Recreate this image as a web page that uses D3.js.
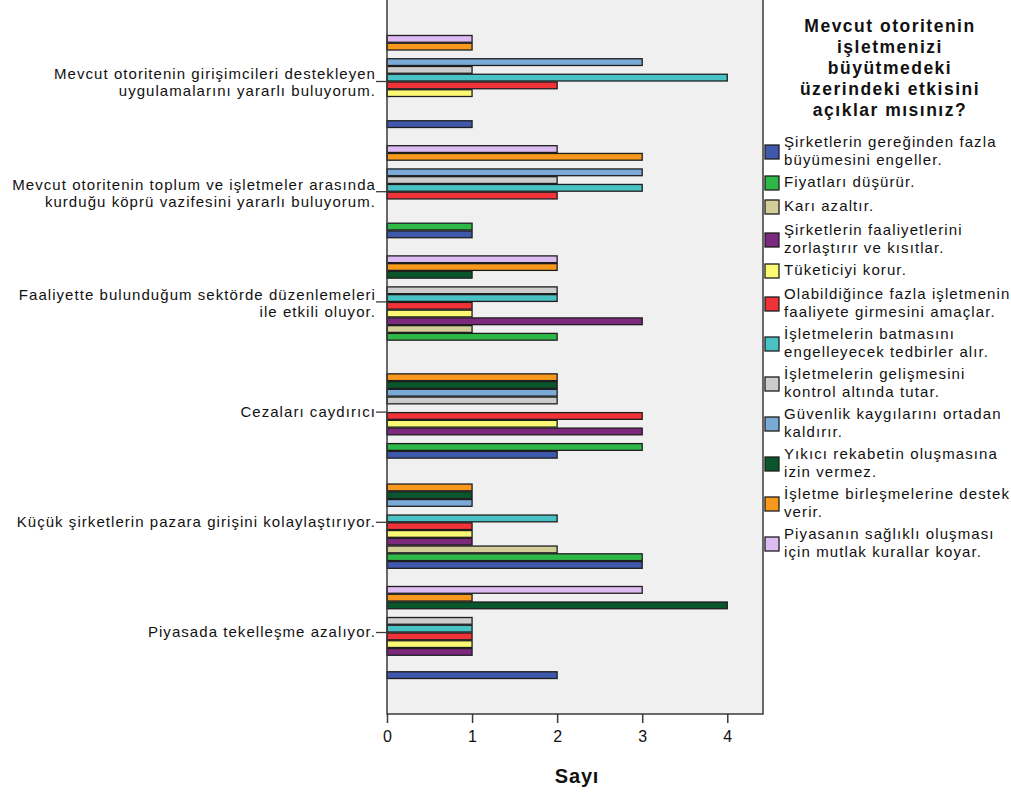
<!DOCTYPE html>
<html lang="tr">
<head>
    <meta charset="UTF-8">
    <script src="https://cdn.jsdelivr.net/npm/d3@7/dist/d3.min.js"></script>
    <style>
        body { margin: 0; background: #fff; }
        svg { display: block; font-family: "Liberation Sans", Arial, sans-serif; }
    </style>
</head>
<body>
    <div id="chart"></div>
    <script>
        // categories (top to bottom)
        const categories = [
            "Mevcut otoritenin girişimcileri destekleyen uygulamalarını yararlı buluyorum.",
            "Mevcut otoritenin toplum ve işletmeler arasında kurduğu köprü vazifesini yararlı buluyorum.",
            "Faaliyette bulunduğum sektörde düzenlemeleri ile etkili oluyor.",
            "Cezaları caydırıcı",
            "Küçük şirketlerin pazara girişini kolaylaştırıyor.",
            "Piyasada tekelleşme azalıyor."
        ];
        const categoryLines = [
            ["Mevcut otoritenin girişimcileri destekleyen", "uygulamalarını yararlı buluyorum."],
            ["Mevcut otoritenin toplum ve işletmeler arasında", "kurduğu köprü vazifesini yararlı buluyorum."],
            ["Faaliyette bulunduğum sektörde düzenlemeleri", "ile etkili oluyor."],
            ["Cezaları caydırıcı"],
            ["Küçük şirketlerin pazara girişini kolaylaştırıyor."],
            ["Piyasada tekelleşme azalıyor."]
        ];

        // series (legend order)
        const seriesNames = [
            "Şirketlerin gereğinden fazla büyümesini engeller.",
            "Fiyatları düşürür.",
            "Karı azaltır.",
            "Şirketlerin faaliyetlerini zorlaştırır ve kısıtlar.",
            "Tüketiciyi korur.",
            "Olabildiğince fazla işletmenin faaliyete girmesini amaçlar.",
            "İşletmelerin batmasını engelleyecek tedbirler alır.",
            "İşletmelerin gelişmesini kontrol altında tutar.",
            "Güvenlik kaygılarını ortadan kaldırır.",
            "Yıkıcı rekabetin oluşmasına izin vermez.",
            "İşletme birleşmelerine destek verir.",
            "Piyasanın sağlıklı oluşması için mutlak kurallar koyar."
        ];
        const legendLines = [
            ["Şirketlerin gereğinden fazla", "büyümesini engeller."],
            ["Fiyatları düşürür."],
            ["Karı azaltır."],
            ["Şirketlerin faaliyetlerini", "zorlaştırır ve kısıtlar."],
            ["Tüketiciyi korur."],
            ["Olabildiğince fazla işletmenin", "faaliyete girmesini amaçlar."],
            ["İşletmelerin batmasını", "engelleyecek tedbirler alır."],
            ["İşletmelerin gelişmesini", "kontrol altında tutar."],
            ["Güvenlik kaygılarını ortadan", "kaldırır."],
            ["Yıkıcı rekabetin oluşmasına", "izin vermez."],
            ["İşletme birleşmelerine destek", "verir."],
            ["Piyasanın sağlıklı oluşması", "için mutlak kurallar koyar."]
        ];
        const colors = ["#3e58ac", "#2eb848", "#d3ce97", "#7c287d", "#fbf873", "#ef3338",
                        "#48c2c5", "#cccccc", "#7aaad5", "#0a562c", "#f8981d", "#ddbaf1"];

        // counts per series, one value per category (top to bottom)
        const s01 = [1, 1, 0, 2, 3, 2];
        const s02 = [0, 1, 2, 3, 3, 0];
        const s03 = [0, 0, 1, 0, 2, 0];
        const s04 = [0, 0, 3, 3, 1, 1];
        const s05 = [1, 0, 1, 2, 1, 1];
        const s06 = [2, 2, 1, 3, 1, 1];
        const s07 = [4, 3, 2, 0, 2, 1];
        const s08 = [1, 2, 2, 2, 0, 1];
        const s09 = [3, 3, 0, 2, 1, 0];
        const s10 = [0, 0, 1, 2, 1, 4];
        const s11 = [1, 3, 2, 2, 1, 1];
        const s12 = [1, 2, 2, 0, 0, 3];
        const seriesValues = [s01, s02, s03, s04, s05, s06, s07, s08, s09, s10, s11, s12];

        const xTicks = [0, 1, 2, 3, 4];
        const xMax = 4.42;

        const W = 1011, H = 796;
        const plot = { left: 387, right: 763, top: -1, bottom: 714 };

        const svg = d3.select("#chart").append("svg")
            .attr("width", W)
            .attr("height", H);

        const xScale = d3.scaleLinear()
            .domain([0, xMax])
            .range([plot.left, plot.right]);

        const yGroup = d3.scaleBand()
            .domain(categories)
            .range([0, plot.bottom])
            .paddingInner(0.156)
            .paddingOuter(0.3175);

        // bottom series sits at the bottom of each cluster
        const yInner = d3.scaleBand()
            .domain(d3.range(seriesNames.length).reverse())
            .range([0, yGroup.bandwidth()]);

        // plot background
        svg.append("rect")
            .attr("x", plot.left)
            .attr("y", plot.top)
            .attr("width", plot.right - plot.left)
            .attr("height", plot.bottom - plot.top)
            .attr("fill", "#f0f0f0");

        // bars
        const rows = [];
        categories.forEach((c, ci) => {
            seriesValues.forEach((vals, si) => {
                if (vals[ci] > 0) rows.push({ cat: c, s: si, v: vals[ci] });
            });
        });

        svg.append("g")
            .selectAll("rect")
            .data(rows)
            .enter()
            .append("rect")
            .attr("x", xScale(0))
            .attr("y", d => yGroup(d.cat) + yInner(d.s) + 0.5)
            .attr("width", d => xScale(d.v) - xScale(0))
            .attr("height", yInner.bandwidth() - 1)
            .attr("fill", d => colors[d.s])
            .attr("stroke", "#1e1e1e")
            .attr("stroke-width", 1.3);

        // plot frame
        svg.append("rect")
            .attr("x", plot.left)
            .attr("y", plot.top)
            .attr("width", plot.right - plot.left)
            .attr("height", plot.bottom - plot.top)
            .attr("fill", "none")
            .attr("stroke", "#3a3a3a")
            .attr("stroke-width", 1.5);

        // x axis
        const xAxis = d3.axisBottom(xScale)
            .tickValues(xTicks)
            .tickSize(9)
            .tickFormat(d3.format("d"));

        const gx = svg.append("g")
            .attr("transform", `translate(0,${plot.bottom})`)
            .call(xAxis);
        gx.select(".domain").remove();
        gx.selectAll("line").attr("stroke", "#3a3a3a").attr("stroke-width", 1.5);
        gx.selectAll("text")
            .attr("y", 17)
            .attr("font-size", "16px")
            .attr("font-family", "Liberation Sans, Arial, sans-serif")
            .attr("fill", "#111");

        svg.append("text")
            .attr("x", 577)
            .attr("y", 783)
            .attr("text-anchor", "middle")
            .attr("font-size", "20px")
            .attr("font-weight", "bold")
            .attr("letter-spacing", "0.8px")
            .attr("fill", "#111")
            .text("Sayı");

        // category ticks and labels
        const yAxis = d3.axisLeft(yGroup)
            .tickSize(11)
            .tickFormat("");
        const gy = svg.append("g")
            .attr("transform", `translate(${plot.left},0)`)
            .call(yAxis);
        gy.select(".domain").remove();
        gy.selectAll("line").attr("stroke", "#3a3a3a").attr("stroke-width", 1.3);

        categories.forEach((c, i) => {
            const cy = yGroup(c) + yGroup.bandwidth() / 2;
            const lines = categoryLines[i];
            const t = svg.append("text")
                .attr("text-anchor", "end")
                .attr("font-size", "15px")
                .attr("letter-spacing", "1.05px")
                .attr("fill", "#111");
            lines.forEach((ln, k) => {
                const dy = lines.length === 1 ? 1 : (k === 0 ? -6 : 11);
                t.append("tspan")
                    .attr("x", 376)
                    .attr("y", cy + dy)
                    .attr("dominant-baseline", "middle")
                    .text(ln);
            });
        });

        // legend
        const legendTitle = ["Mevcut otoritenin", "işletmenizi", "büyütmedeki", "üzerindeki etkisini", "açıklar mısınız?"];
        svg.append("text")
            .attr("text-anchor", "middle")
            .attr("font-size", "17.5px")
            .attr("font-weight", "bold")
            .attr("letter-spacing", "1.5px")
            .attr("fill", "#111")
            .selectAll("tspan")
            .data(legendTitle)
            .enter()
            .append("tspan")
            .attr("x", 890)
            .attr("y", (d, i) => 27 + i * 21)
            .attr("dominant-baseline", "middle")
            .text(d => d);

        let ly = 143;
        const legend = svg.append("g");
        legendLines.forEach((lines, i) => {
            const h = lines.length === 2 ? 18 : 0;
            legend.append("rect")
                .attr("x", 765)
                .attr("y", ly + h / 2 - 7)
                .attr("width", 14)
                .attr("height", 14)
                .attr("fill", colors[i])
                .attr("stroke", "#1e1e1e")
                .attr("stroke-width", 1.3);
            const t = legend.append("text")
                .attr("font-size", "15px")
                .attr("letter-spacing", "1.1px")
                .attr("fill", "#111");
            lines.forEach((ln, k) => {
                t.append("tspan")
                    .attr("x", 784)
                    .attr("y", ly + k * 18)
                    .attr("dominant-baseline", "middle")
                    .text(ln);
            });
            ly += lines.length === 2 ? 40 : 24;
        });
    </script>
</body>
</html>
